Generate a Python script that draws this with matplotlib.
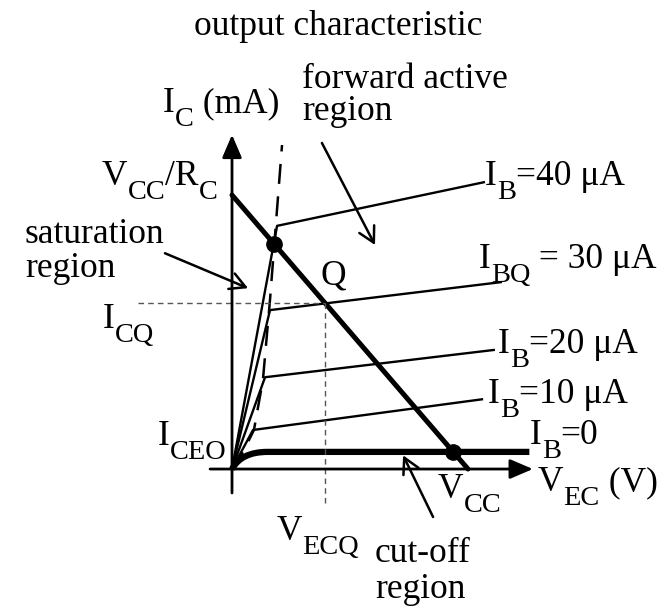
"""Common-emitter (PNP) output characteristic with load line and Q point."""

import re

import matplotlib

matplotlib.use("Agg")
import matplotlib.pyplot as plt
import matplotlib.transforms as mtransforms
from matplotlib.patches import PathPatch
from matplotlib.path import Path

plt.rcParams["font.family"] = ["Liberation Serif", "DejaVu Serif"]

# load line end points (V_EC in V, I_C in mA)
V_CC = 10.0
I_SAT = 4.0  # V_CC / R_C

# base-current curves: knee of the steep part and right-hand end
ib_labels = ["I_{B}=10 μA", "I_{B}=20 μA", "I_{BQ} = 30 μA", "I_{B}=40 μA"]
knee_v = [0.89, 1.40, 1.61, 1.91]
knee_i = [0.57, 1.34, 2.32, 3.55]
end_v = [10.64, 11.14, 11.44, 10.72]
end_i = [1.02, 1.74, 2.73, 4.19]
q_curve = 2  # index of the I_BQ curve

# I_B = 0 curve: rounded rise to I_CEO, then flat
I_CEO = 0.25
ceo_ctrl_v = 0.4
ceo_knee_v = 1.5
ceo_end_v = 12.6

# edge of the saturation region
sat_v = [0.0, 0.34, 0.93, 1.31, 1.61, 2.12]
sat_i = [0.0, 0.16, 0.57, 1.30, 2.47, 4.73]

FS = 25.5
SUB = 0.8    # subscript size relative to FS
DROP = 14    # subscript baseline drop, px
W, H = 668, 610

fig = plt.figure(figsize=(W / 100, H / 100), dpi=100)
ax = fig.add_axes([0, 0, 1, 1])
ax.set_xlim(-9.831, 18.475)
ax.set_ylim(-2.058, 6.847)
ax.axis("off")

# texts are laid out in pixels from the top-left corner
pix = mtransforms.Affine2D().scale(1, -1).translate(0, H)
renderer = fig.canvas.get_renderer()


def label(x, y, s, **kw):
    """Draw s with its baseline at pixel (x, y); '_{..}' marks a subscript."""
    chunks = re.split(r"_\{([^}]*)\}", s)
    for n, chunk in enumerate(chunks):
        if not chunk:
            continue
        is_sub = n % 2 == 1
        t = ax.text(x, y + (DROP if is_sub else 0), chunk, transform=pix,
                    fontsize=FS * SUB if is_sub else FS, va="baseline", **kw)
        x += t.get_window_extent(renderer).width


# axes with filled arrow heads
axis_style = dict(arrowstyle="-|>,head_length=0.7,head_width=0.3",
                  lw=2, color="k", mutation_scale=20, shrinkA=0, shrinkB=0)
ax.annotate("", xy=(0, 4.88), xytext=(0, -0.35), arrowprops=axis_style)
ax.annotate("", xy=(12.75, 0), xytext=(-0.93, 0), arrowprops=axis_style)

# base-current curves
for kv, ki, ev, ei in zip(knee_v, knee_i, end_v, end_i):
    ax.plot([0, kv, ev], [0, ki, ei], color="k", lw=1.7, solid_capstyle="butt")

# I_B = 0
ceo_path = Path([(0, 0), (ceo_ctrl_v, I_CEO), (ceo_knee_v, I_CEO), (ceo_end_v, I_CEO)],
                [Path.MOVETO, Path.CURVE3, Path.CURVE3, Path.LINETO])
ax.add_patch(PathPatch(ceo_path, fill=False, lw=4.5, color="k", capstyle="butt"))

# saturation boundary
ax.plot(sat_v, sat_i, color="k", lw=1.8, dashes=(8, 5))

# load line
ax.plot([0, V_CC], [I_SAT, 0], color="k", lw=3.6, solid_capstyle="round")

# Q point: load line meets the I_BQ curve
slope_q = (end_i[q_curve] - knee_i[q_curve]) / (end_v[q_curve] - knee_v[q_curve])
vq = (I_SAT - knee_i[q_curve] + slope_q * knee_v[q_curve]) / (I_SAT / V_CC + slope_q)
iq = I_SAT * (1 - vq / V_CC)
ax.plot([-3.98, vq], [iq, iq], color="#555555", lw=1, dashes=(4, 3))
ax.plot([vq, vq], [iq, -0.55], color="#555555", lw=1, dashes=(4, 3))

# saturation point (steep part of I_B=40) and cut-off point
k = 3
s = knee_i[k] / knee_v[k]
v_sat = I_SAT / (s + I_SAT / V_CC)
v_off = V_CC * (1 - I_CEO / I_SAT)
ax.plot([v_sat, v_off], [s * v_sat, I_CEO], "o", color="k", ms=11)

# pointers to the regions
ptr = dict(arrowstyle="->,head_length=0.55,head_width=0.3", lw=1.8, color="k",
           mutation_scale=20, shrinkA=0, shrinkB=0)
ax.annotate("", xy=(0.68, 2.64), xytext=(-2.84, 3.15), arrowprops=ptr)
ax.annotate("", xy=(6.06, 3.27), xytext=(3.81, 4.76), arrowprops=ptr)
ax.annotate("", xy=(7.25, 0.20), xytext=(8.52, -0.70), arrowprops=ptr)

# text
ax.text(338, 35, "output characteristic", transform=pix, fontsize=FS,
        va="baseline", ha="center")
label(163, 112, "I_{C} (mA)")
label(302, 88, "forward active")
label(302, 120, "region")
label(102, 185, "V_{CC}/R_{C}")
label(25, 243, "saturation")
label(25, 277, "region")
label(103, 328, "I_{CQ}")
label(320, 285, "Q")
label(158, 445, "I_{CEO}")
for txt, (x, y) in zip(ib_labels, [(488, 403), (498, 353), (479, 268), (485, 185)]):
    label(x, y, txt)
label(530, 444, "I_{B}=0")
label(538, 491, "V_{EC} (V)")
label(438, 498, "V_{CC}")
label(277, 540, "V_{ECQ}")
label(375, 562, "cut-off")
label(375, 598, "region")

fig.savefig("out.png", dpi=100)
